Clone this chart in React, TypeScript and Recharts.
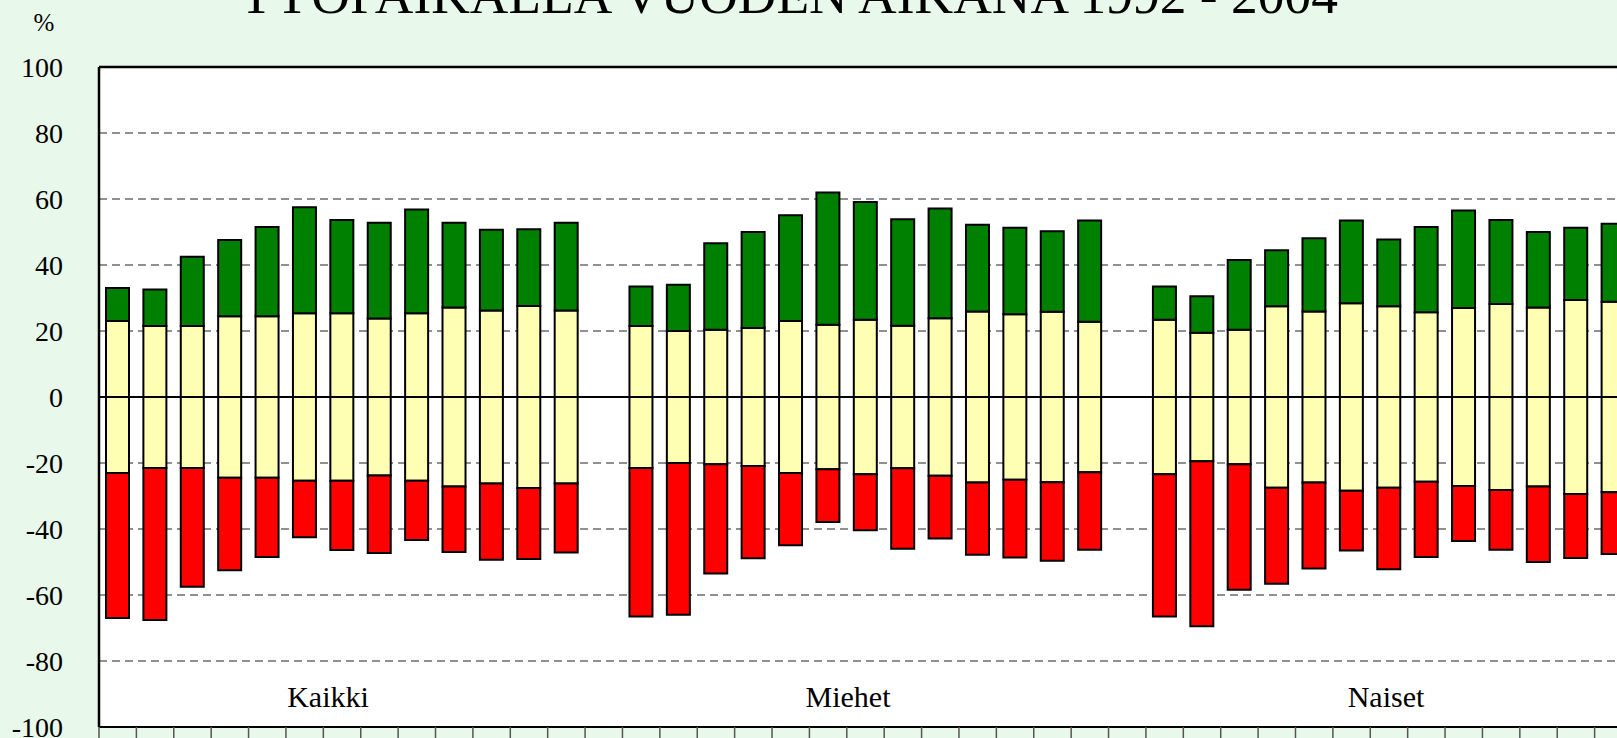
import React from 'react';
import { BarChart, Bar, XAxis, YAxis, CartesianGrid, ReferenceLine } from 'recharts';

const years = ['1992', '1993', '1994', '1995', '1996', '1997', '1998', '1999', '2000', '2001', '2002', '2003', '2004'];
const groups = ['Kaikki', 'Miehet', 'Naiset'];

// top of green, half of the yellow band (split round zero), bottom of red
const kaikkiTop = [33.0, 32.6, 42.5, 47.6, 51.5, 57.5, 53.6, 52.8, 56.8, 52.8, 50.7, 50.8, 52.8];
const kaikkiMid = [23.0, 21.5, 21.5, 24.5, 24.5, 25.4, 25.4, 23.8, 25.4, 27.1, 26.2, 27.6, 26.2];
const kaikkiBottom = [-67.0, -67.6, -57.5, -52.5, -48.5, -42.5, -46.4, -47.3, -43.3, -47.0, -49.3, -49.1, -47.1];

const miehetTop = [33.5, 34.0, 46.6, 50.0, 55.1, 62.0, 59.1, 53.9, 57.1, 52.2, 51.3, 50.2, 53.5];
const miehetMid = [21.5, 20.0, 20.4, 20.9, 23.0, 21.9, 23.4, 21.6, 23.9, 25.9, 25.1, 25.8, 22.8];
const miehetBottom = [-66.5, -66.0, -53.5, -48.9, -44.9, -37.9, -40.4, -46.0, -42.9, -47.8, -48.6, -49.6, -46.3];

const naisetTop = [33.5, 30.5, 41.5, 44.5, 48.1, 53.5, 47.7, 51.5, 56.5, 53.6, 50.0, 51.3, 52.5];
const naisetMid = [23.4, 19.5, 20.4, 27.5, 25.9, 28.4, 27.5, 25.7, 27.0, 28.2, 27.1, 29.4, 28.9];
const naisetBottom = [-66.5, -69.5, -58.4, -56.6, -52.0, -46.5, -52.2, -48.5, -43.6, -46.3, -50.0, -48.8, -47.6];

const yTicks = [100, 80, 60, 40, 20, 0, -20, -40, -60, -80, -100];

const groupData = [
  { tops: kaikkiTop, mids: kaikkiMid, bottoms: kaikkiBottom },
  { tops: miehetTop, mids: miehetMid, bottoms: miehetBottom },
  { tops: naisetTop, mids: naisetMid, bottoms: naisetBottom },
];

type Row = {
  key: string;
  yellowUp?: number;
  green?: number;
  yellowDown?: number;
  red?: number;
};

const rows: Row[] = [];
groups.forEach((g, gi) => {
  if (gi > 0) rows.push({ key: `gap${gi}` });
  const { tops, mids, bottoms } = groupData[gi];
  years.forEach((yr, i) => {
    rows.push({
      key: `${g} ${yr}`,
      yellowUp: mids[i],
      green: tops[i] - mids[i],
      yellowDown: -mids[i],
      red: bottoms[i] + mids[i],
    });
  });
});

const CHART_W = 1640;
const CHART_H = 738;
const LEFT = 99;
const RIGHT_MARGIN = 8;
const band = (CHART_W - LEFT - RIGHT_MARGIN) / rows.length;

const serif = "'Liberation Serif', 'Times New Roman', serif";

const BoundaryTick = (props: any) => {
  const { x, y } = props;
  const bx = x - band / 2;
  return <line x1={bx} y1={y} x2={bx} y2={y + 12} stroke="#555" strokeWidth={1.5} />;
};

const YTick = (props: any) => {
  const { x, y, payload } = props;
  return (
    <text x={x} y={y} dy="0.35em" textAnchor="end" fontFamily={serif} fontSize={28} fill="#000">
      {payload.value}
    </text>
  );
};

export default function App() {
  return (
    <div
      style={{
        position: 'absolute',
        left: 0,
        top: 0,
        width: 1617,
        height: 738,
        overflow: 'hidden',
        background: '#E8F8EA',
        fontFamily: serif,
      }}
    >
      <BarChart
        width={CHART_W}
        height={CHART_H}
        data={rows}
        stackOffset="sign"
        barSize={23}
        margin={{ top: 67, right: RIGHT_MARGIN, bottom: 0, left: 0 }}
      >
        <CartesianGrid vertical={false} stroke="#222" strokeWidth={1.2} strokeDasharray="8 5" fill="#ffffff" />
        <XAxis
          dataKey="key"
          height={11}
          interval={0}
          tickSize={0}
          tickMargin={0}
          tickLine={false}
          tick={BoundaryTick}
          axisLine={{ stroke: '#000', strokeWidth: 2 }}
        />
        <YAxis
          width={LEFT}
          domain={[-100, 100]}
          ticks={yTicks}
          interval={0}
          tickSize={0}
          tickMargin={36}
          tickLine={false}
          axisLine={{ stroke: '#000', strokeWidth: 2.5 }}
          tick={YTick}
        />
        <Bar dataKey="yellowUp" stackId="s" fill="#FFFFB3" stroke="#000" strokeWidth={2} isAnimationActive={false} />
        <Bar dataKey="green" stackId="s" fill="#008000" stroke="#000" strokeWidth={2} isAnimationActive={false} />
        <Bar dataKey="yellowDown" stackId="s" fill="#FFFFB3" stroke="#000" strokeWidth={2} isAnimationActive={false} />
        <Bar dataKey="red" stackId="s" fill="#FF0000" stroke="#000" strokeWidth={2} isAnimationActive={false} />
        <ReferenceLine y={0} stroke="#000" strokeWidth={2} />
        <ReferenceLine y={100} stroke="#000" strokeWidth={2.5} />
      </BarChart>
      <svg
        width={1617}
        height={738}
        style={{ position: 'absolute', left: 0, top: 0, pointerEvents: 'none' }}
      >
        <text x={240} y={12.5} fontFamily={serif} fontSize={53} textLength={1098} lengthAdjust="spacingAndGlyphs" fill="#000">
          TYÖPAIKALLA VUODEN AIKANA 1992 - 2004
        </text>
        <text x={44} y={31} textAnchor="middle" fontFamily={serif} fontSize={25} fill="#000">
          %
        </text>
        <text x={328} y={706.5} textAnchor="middle" fontFamily={serif} fontSize={30} fill="#000">
          Kaikki
        </text>
        <text x={848} y={706.5} textAnchor="middle" fontFamily={serif} fontSize={30} fill="#000">
          Miehet
        </text>
        <text x={1386} y={706.5} textAnchor="middle" fontFamily={serif} fontSize={30} fill="#000">
          Naiset
        </text>
      </svg>
    </div>
  );
}
